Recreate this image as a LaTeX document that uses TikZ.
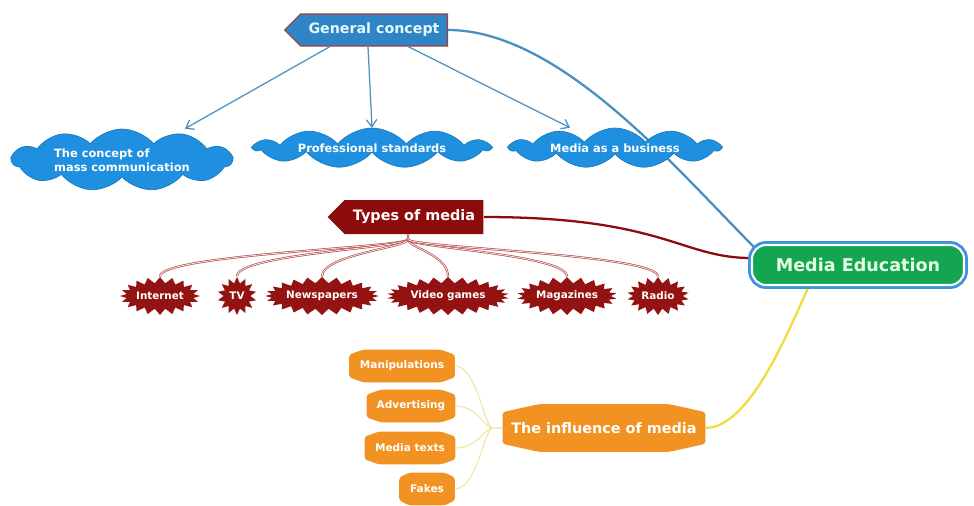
\documentclass[tikz,border=0pt]{standalone}
\usepackage{fontspec}
\setmainfont{DejaVu Sans}
\usepackage{tikz}
\usetikzlibrary{shapes.misc}
\usetikzlibrary{shapes.symbols}
\usetikzlibrary{arrows.meta}
\usetikzlibrary{calc}
\usetikzlibrary{backgrounds}

\definecolor{gcblue}{HTML}{2F84C6}
\definecolor{cloudblue}{HTML}{1F8FE0}
\definecolor{linkblue}{HTML}{4A8FC2}
\definecolor{mediared}{HTML}{8C0C0C}
\definecolor{burstred}{HTML}{931212}
\definecolor{megreen}{HTML}{14A550}
\definecolor{meblue}{HTML}{3C93DC}
\definecolor{inforange}{HTML}{F29222}
\definecolor{linkyellow}{HTML}{F0DC40}
\definecolor{forkyellow}{HTML}{F3E3A0}

\tikzset{
	gcbox/.style={signal, signal to=west, signal from=nowhere, fill=gcblue, draw=mediared!80, line width=0.6pt, text=white!90!cyan, font=\bfseries\fontsize{8.1}{10}\selectfont, minimum width=3.26cm, minimum height=0.64cm},
	cloudbox/.style={cloud, cloud puffs=11, cloud puff arc=100, cloud ignores aspect, fill=cloudblue, draw=cloudblue!85!black, line width=0.4pt, text=white, font=\bfseries\fontsize{6.5}{8}\selectfont, inner sep=0pt},
	typebox/.style={signal, signal to=west, signal from=nowhere, fill=mediared, text=white, font=\bfseries\fontsize{8.2}{10}\selectfont, minimum width=3.12cm, minimum height=0.68cm},
	burst/.style={starburst, starburst points=20, starburst point height=3.5pt, random starburst=0, fill=burstred, text=white, font=\bfseries\fontsize{5.9}{7}\selectfont, minimum height=0.76cm, inner sep=0pt},
	mebox/.style={rounded corners=8pt, fill=megreen, draw=white, line width=1.2pt, preaction={draw=meblue, line width=4.5pt, fill=none}, text=white!90!green, font=\bfseries\fontsize{10}{12}\selectfont, minimum width=4.24cm, minimum height=0.8cm},
	infbox/.style={rectangle, text=white, font=\bfseries\fontsize{8.2}{10}\selectfont, minimum width=4.04cm, minimum height=0.94cm, inner sep=0pt},
	subinf/.style={rectangle, text=white, font=\bfseries\fontsize{6}{7}\selectfont, minimum height=0.64cm, inner sep=0pt},
	bluelink/.style={draw=linkblue, line width=0.7pt, -{Straight Barb[length=4pt, width=6pt]}},
	fanlink/.style={draw=mediared!75, double=white!85!red, double distance=0.5pt, line width=0.35pt},
	forklink/.style={draw=forkyellow, line width=0.6pt}
}

\newcommand{\hexfill}[3]{\fill [inforange, rounded corners=1.5pt] ($(#1.north west)+(0,#3)$) -- ($(#1.north west)+(#2,0)$) -- ($(#1.north east)+(-#2,0)$) -- ($(#1.north east)+(0,#3)$) -- ($(#1.south east)+(0,-#3)$) -- ($(#1.south east)+(-#2,0)$) -- ($(#1.south west)+(#2,0)$) -- ($(#1.south west)+(0,-#3)$) -- cycle;}

\begin{document}
\begin{tikzpicture}[x=0.02cm, y=-0.02cm]
		\useasboundingbox (0,0) rectangle (974,505);

		\node [gcbox] (gc) at (374,30) {General concept};
		\node [cloudbox, minimum width=4.4cm, minimum height=1.24cm, align=left] (mc) at (122,160) {The concept of\\mass communication};
		\node [cloudbox, minimum width=4.7cm, minimum height=0.8cm] (ps) at (372,148) {Professional standards};
		\node [cloudbox, minimum width=4.2cm, minimum height=0.8cm] (mb) at (615,148) {Media as a business};

		\node [typebox] (tm) at (414,217) {Types of media};
		\node [burst, minimum width=1.5cm] (inet) at (160,296) {Internet};
		\node [burst, minimum width=0.78cm, starburst points=14] (tv) at (237,296) {TV};
		\node [burst, minimum width=2.2cm, starburst points=24] (news) at (322,296) {Newspapers};
		\node [burst, minimum width=2.44cm, starburst points=26] (games) at (448,296) {Video games};
		\node [burst, minimum width=1.96cm, starburst points=22] (mags) at (567,296) {Magazines};
		\node [burst, minimum width=1.24cm, starburst points=18] (radio) at (658,296) {Radio};

		\node [mebox] (me) at (858,265) {Media Education};

		\node [infbox] (tim) at (604,428) {The influence of media};
		\node [subinf, minimum width=2.1cm] (manip) at (402,366) {Manipulations};
		\node [subinf, minimum width=1.76cm] (adv) at (411,406) {Advertising};
		\node [subinf, minimum width=1.8cm] (texts) at (410,448) {Media texts};
		\node [subinf, minimum width=1.1cm] (fakes) at (427,489) {Fakes};

		\draw [bluelink] ($(gc.south)+(-44,0)$) -- ($(mc.north)+(63,0)$);
		\draw [bluelink] ($(gc.south)+(-6,0)$) -- (ps.north);
		\draw [bluelink] ($(gc.south)+(34,0)$) -- ($(mb.north)+(-45,0)$);

		\coordinate (tmj) at ($(tm.south)+(-6,5)$);
		\draw [fanlink] (tm.south -| tmj) -- (tmj) .. controls +(0,8) and +(0,-22) .. (inet.north);
		\draw [fanlink] (tmj) .. controls +(0,8) and +(0,-22) .. (tv.north);
		\draw [fanlink] (tmj) .. controls +(0,8) and +(0,-22) .. (news.north);
		\draw [fanlink] (tmj) .. controls +(0,8) and +(0,-22) .. (games.north);
		\draw [fanlink] (tmj) .. controls +(0,8) and +(0,-22) .. (mags.north);
		\draw [fanlink] (tmj) .. controls +(0,8) and +(0,-22) .. (radio.north);

		\begin{scope}[on background layer]
			\fill [white] (0,0) rectangle (974,505);
			\draw [linkblue, line width=1.3pt] (gc.east) .. controls +(112,0) and +(-77,-77) .. ($(me.north west)+(3,3)$);
			\draw [mediared, line width=1.3pt] (tm.east) .. controls +(180,0) and +(-70,0) .. ($(me.west)+(0,-7)$);
			\draw [linkyellow, line width=1.3pt] ($(me.south west)+(58,0)$) .. controls +(-20,43) and +(45,0) .. (tim.east);
			\hexfill{tim}{36}{8}
			\hexfill{manip}{14}{5}
			\hexfill{adv}{14}{5}
			\hexfill{texts}{14}{5}
			\hexfill{fakes}{10}{5}
		\end{scope}

		\coordinate (timj) at ($(tim.west)+(-10,0)$);
		\draw [forklink] (tim.west) -- (timj) .. controls +(-8,0) and +(22,0) .. (manip.east);
		\draw [forklink] (timj) .. controls +(-8,0) and +(22,0) .. (adv.east);
		\draw [forklink] (timj) .. controls +(-8,0) and +(22,0) .. (texts.east);
		\draw [forklink] (timj) .. controls +(-8,0) and +(22,0) .. (fakes.east);
	\end{tikzpicture}
\end{document}
